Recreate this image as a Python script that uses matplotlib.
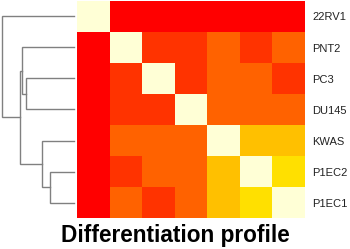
"""Cell line differentiation profile: clustered heatmap with row dendrogram."""
import matplotlib
matplotlib.use("Agg")
import matplotlib.pyplot as plt
import numpy as np
from matplotlib.colors import ListedColormap, BoundaryNorm

plt.rcParams.update({"font.family": ["Liberation Sans", "DejaVu Sans"]})

# leaf order (top to bottom), same for columns
labels = ["22RV1", "PNT2", "PC3", "DU145", "KWAS", "P1EC2", "P1EC1"]

# similarity values
sim = [
    [1.00, 0.10, 0.10, 0.10, 0.10, 0.10, 0.10],
    [0.10, 1.00, 0.30, 0.30, 0.50, 0.30, 0.50],
    [0.10, 0.30, 1.00, 0.30, 0.50, 0.50, 0.30],
    [0.10, 0.30, 0.30, 1.00, 0.50, 0.50, 0.50],
    [0.10, 0.50, 0.50, 0.50, 1.00, 0.70, 0.70],
    [0.10, 0.30, 0.50, 0.50, 0.70, 1.00, 0.82],
    [0.10, 0.50, 0.30, 0.50, 0.70, 0.82, 1.00],
]

# merges: (left member, right member, height); clusters named by index "c0", "c1"...
merges = [
    ("PC3", "DU145", 0.67),
    ("P1EC2", "P1EC1", 0.33),
    ("PNT2", "c0", 0.72),
    ("KWAS", "c1", 0.44),
    ("c2", "c3", 0.75),
    ("22RV1", "c4", 1.00),
]

heat = ListedColormap(["#FF0000", "#FF3300", "#FF6200", "#FFC000", "#FFE000", "#FFFFD6"])
norm = BoundaryNorm([0, 0.2, 0.4, 0.6, 0.75, 0.9, 1.01], heat.N)

W, H = 350, 249
fig = plt.figure(figsize=(W / 100, H / 100), dpi=100)

# heatmap
ax = fig.add_axes([77 / W, 1 - 218 / H, 228 / W, 217 / H])
ax.pcolormesh(np.array(sim), cmap=heat, norm=norm)
ax.set_xlim(0, len(labels)); ax.set_ylim(len(labels), 0)
ax.set_xticks([])
ax.set_yticks(np.arange(len(labels)) + 0.5)
ax.set_yticklabels(labels, fontsize=8, color="#222222")
ax.yaxis.tick_right()
ax.tick_params(axis="y", length=0, pad=5)
for s in ax.spines.values():
    s.set_visible(False)

# dendrogram
dax = fig.add_axes([2 / W, 1 - 218 / H, 72 / W, 217 / H])
dax.set_xlim(1.0, 0.0); dax.set_ylim(len(labels), 0)
dax.axis("off")
pos = {name: (i + 0.5, 0.0) for i, name in enumerate(labels)}
for k, (a, b, h) in enumerate(merges):
    ya, ha = pos[a]; yb, hb = pos[b]
    dax.plot([ha, h, h, hb], [ya, ya, yb, yb], color="#808080", lw=1.0,
             clip_on=False, solid_joinstyle="miter")
    pos["c%d" % k] = ((ya + yb) / 2, h)

fig.text(0.5, 1 - 242 / H, "Differentiation profile", ha="center", va="baseline",
         fontsize=16.3, fontweight="bold", color="black")

fig.savefig("out.png", dpi=100, facecolor="white")
